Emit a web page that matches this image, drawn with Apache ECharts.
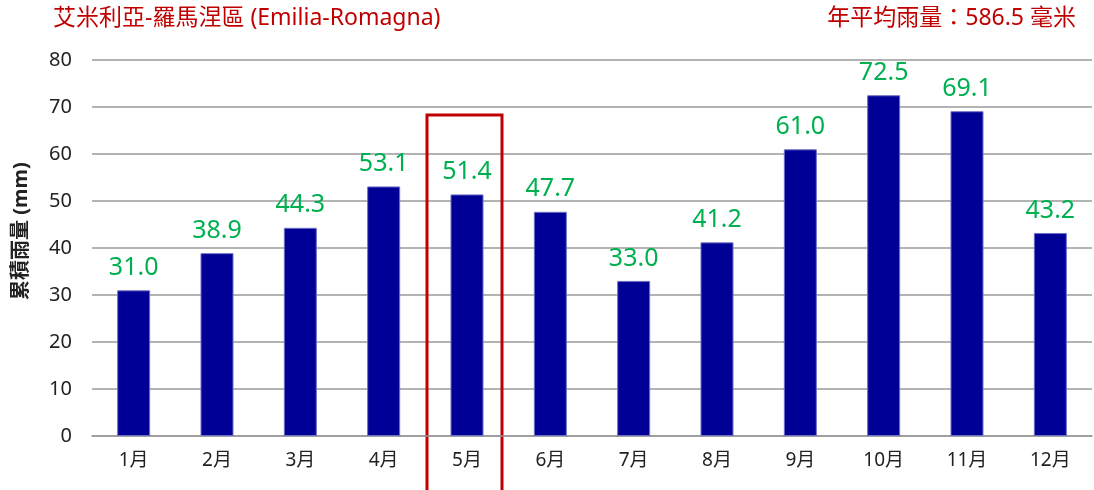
<!DOCTYPE html>
<html>
<head>
<meta charset="utf-8">
<script src="https://cdn.jsdelivr.net/npm/echarts@6/dist/echarts.min.js"></script>
<style>
  html, body { margin: 0; padding: 0; background: #fff; }
  #chart { width: 1094px; height: 490px; }
</style>
</head>
<body>
<div id="chart"></div>
<script>
// rainfall per month, Emilia-Romagna
const months = ['1月', '2月', '3月', '4月', '5月', '6月', '7月', '8月', '9月', '10月', '11月', '12月']
const rainfall = [31.0, 38.9, 44.3, 53.1, 51.4, 47.7, 33.0, 41.2, 61.0, 72.5, 69.1, 43.2]
const yTicks = [0, 10, 20, 30, 40, 50, 60, 70, 80]
const titleLeft = '艾米利亞-羅馬涅區 (Emilia-Romagna)'
const titleRight = '年平均雨量：586.5 毫米'
const yName = '累積雨量 (mm)'
const highlightMonth = '5月'

const font = '"Noto Sans", "Noto Sans CJK TC", sans-serif'
const chart = echarts.init(document.getElementById('chart'))

const options = {
  animation: false,
  textStyle: { fontFamily: font },
  grid: { left: 92, right: 2, top: 60, bottom: 54 },
  title: [
    {
      text: titleLeft,
      left: 48,
      top: 2,
      textStyle: { color: '#c00000', fontSize: 23, fontWeight: 'normal', fontFamily: font }
    },
    {
      text: titleRight,
      right: 13,
      top: 2,
      textStyle: { color: '#c00000', fontSize: 23, fontWeight: 'normal', fontFamily: font }
    }
  ],
  xAxis: {
    type: 'category',
    data: months,
    axisLine: { lineStyle: { color: '#999', width: 1.5 } },
    axisTick: { inside: true, length: 5, lineStyle: { color: '#999', width: 1.5 } },
    axisLabel: { color: '#222', fontSize: 19, margin: 15 }
  },
  yAxis: {
    type: 'value',
    min: yTicks[0],
    max: yTicks[yTicks.length - 1],
    interval: 10,
    axisLine: { show: false },
    axisTick: { show: false },
    axisLabel: { color: '#222', fontSize: 20, margin: 20 },
    splitLine: { lineStyle: { color: '#9a9a9a', width: 1.5 } }
  },
  series: [
    {
      type: 'bar',
      data: rainfall,
      barWidth: 33,
      itemStyle: { color: '#000096', borderColor: '#6f6fc8', borderWidth: 1 },
      label: {
        show: true,
        position: 'top',
        distance: 10,
        color: '#00b050',
        fontSize: 25,
        fontFamily: '"Noto Sans", sans-serif',
        formatter: (p) => p.value.toFixed(1)
      }
    }
  ]
}
chart.setOption(options)

// red frame around the highlighted month
const cx = chart.convertToPixel({ xAxisIndex: 0 }, highlightMonth)
chart.setOption({
  graphic: [
    {
      type: 'rect',
      shape: { x: cx - 40, y: 115, width: 75, height: 385 },
      style: { fill: 'none', stroke: '#c00000', lineWidth: 3 }
    },
    {
      type: 'text',
      x: 21,
      y: 231,
      rotation: Math.PI / 2,
      style: {
        text: yName,
        fill: '#222',
        font: 'bold 20px ' + font,
        align: 'center',
        verticalAlign: 'middle'
      }
    }
  ]
})
</script>
</body>
</html>
